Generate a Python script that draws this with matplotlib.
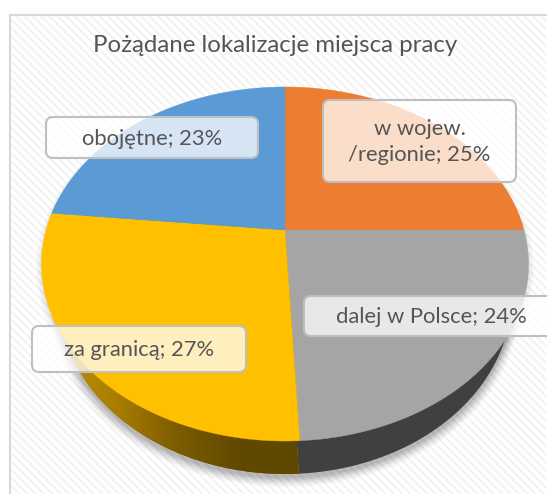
import numpy as np
import matplotlib
matplotlib.use("Agg")
import matplotlib.pyplot as plt
from matplotlib.colors import LinearSegmentedColormap
from matplotlib.patches import Circle, FancyBboxPatch, Rectangle
from matplotlib.path import Path
from matplotlib.transforms import Affine2D, Transform

# ---- data ----
title_text = "Pożądane lokalizacje miejsca pracy"
categories = ["w wojew.\n/regionie", "dalej w Polsce", "za granicą", "obojętne"]
shares = [25.0, 24.2, 27.4, 23.4]
top_colors = ["#ED7D31", "#A5A5A5", "#FFC000", "#5B9BD5"]
side_colors = ["#8E4B1D", "#404040", "#7A5A00", "#37607F"]

# ---- layout, in pixels of the picture ----
W, H = 547, 494
VERTEX = (285.0, 230.0)
A, B, K = 239.0, 170.5, 0.192
WALL_SCALE, WALL_DROP = 0.93, 33.0
boxes = [(323, 100, 516, 182), (304, 296, 562, 336), (32, 326, 246, 372), (46, 117, 258, 158)]
text_x = [419.5, 431, 139.5, 152]

plt.rcParams["font.family"] = ["Lato", "DejaVu Sans"]
plt.rcParams["hatch.linewidth"] = 1.3
TEXT = "#555555"


class Tilt(Transform):
    """Perspective view of the pie's unit circle, giving picture pixels."""
    input_dims = output_dims = 2
    is_separable = False
    has_inverse = False

    def __init__(self, scale_x=1.0, drop=0.0):
        super().__init__()
        self.scale_x, self.drop = scale_x, drop

    def transform_non_affine(self, values):
        values = np.asarray(values, float)
        u, v = values[:, 0], values[:, 1]
        d = 1 + K * v
        return np.column_stack([VERTEX[0] + self.scale_x * A * u / d,
                                VERTEX[1] + self.drop - B * v / d])

    def transform_path_non_affine(self, path):
        polys = path.to_polygons(transform=Affine2D().scale(2000), closed_only=True)
        if not polys:
            return path
        pts = polys[0] / 2000
        return Path(self.transform_non_affine(pts), closed=True)


fig = plt.figure(figsize=(W / 100, H / 100), dpi=100, facecolor="white")
ax = fig.add_axes([0, 0, 1, 1])

ax.add_patch(Rectangle((10, 15), W + 40, H + 40, facecolor="white",
                       edgecolor="#D9D9D9", linewidth=1.6, zorder=0))
ax.add_patch(Rectangle((11, 16), W + 40, H + 40, facecolor="none",
                       edgecolor="#F2F2F2", hatch="\\\\\\\\", linewidth=0, zorder=0.5))

# soft shadow under the solid
for r, alpha in zip(np.linspace(1.035, 1.0, 8), [0.02, 0.025, 0.03, 0.035, 0.04, 0.05, 0.05, 0.05]):
    ax.add_patch(Circle((0, 0), r, facecolor="black", alpha=alpha, linewidth=0, zorder=1,
                        transform=Tilt(WALL_SCALE, WALL_DROP + 4) + ax.transData))
    ax.add_patch(Circle((0, 0), r - 0.012, facecolor="black", alpha=alpha * 0.7, linewidth=0, zorder=1,
                        transform=Tilt(1.0, 3) + ax.transData))

# side wall
wall, _ = ax.pie(shares, colors=side_colors, startangle=90, counterclock=False, radius=1,
                 wedgeprops=dict(linewidth=0))
wall_t = Tilt(WALL_SCALE, WALL_DROP) + ax.transData
for w in wall:
    w.set_transform(wall_t)
    w.set_zorder(2)

# gradient on the yellow part of the wall
grad = LinearSegmentedColormap.from_list("wall", ["#C49200", "#A87D00", "#7C5C00", "#614900", "#604800"])
im = ax.imshow(np.linspace(0, 1, 256)[None, :], cmap=grad, extent=(55, 300, 480, 250),
               aspect="auto", zorder=3, interpolation="bilinear")
im.set_clip_path(wall[2])

# top face
top, _ = ax.pie(shares, colors=top_colors, startangle=90, counterclock=False, radius=1,
                wedgeprops=dict(linewidth=0.3))
top_t = Tilt() + ax.transData
for w, c in zip(top, top_colors):
    w.set_transform(top_t)
    w.set_edgecolor(c)
    w.set_zorder(4)

# data labels
for name, value, (x0, y0, x1, y1), tx in zip(categories, shares, boxes, text_x):
    ax.add_patch(FancyBboxPatch((x0 + 7, y0 + 7), x1 - x0 - 14, y1 - y0 - 14,
                                boxstyle="round,pad=7,rounding_size=7",
                                facecolor=(1, 1, 1, 0.75), edgecolor="#BFBFBF",
                                linewidth=1.5, zorder=5))
    ax.text(tx, (y0 + y1) / 2 + 1, f"{name}; {round(value)}%", ha="center", va="center",
            ma="center", fontsize=15.8, color=TEXT, linespacing=1.42, zorder=6)

ax.text(275, 46, title_text, ha="center", va="center", fontsize=17.3, color=TEXT, zorder=6)

ax.set_aspect("auto")
ax.set_xlim(0, W)
ax.set_ylim(H, 0)
ax.set_axis_off()
fig.savefig("out.png", dpi=100)
